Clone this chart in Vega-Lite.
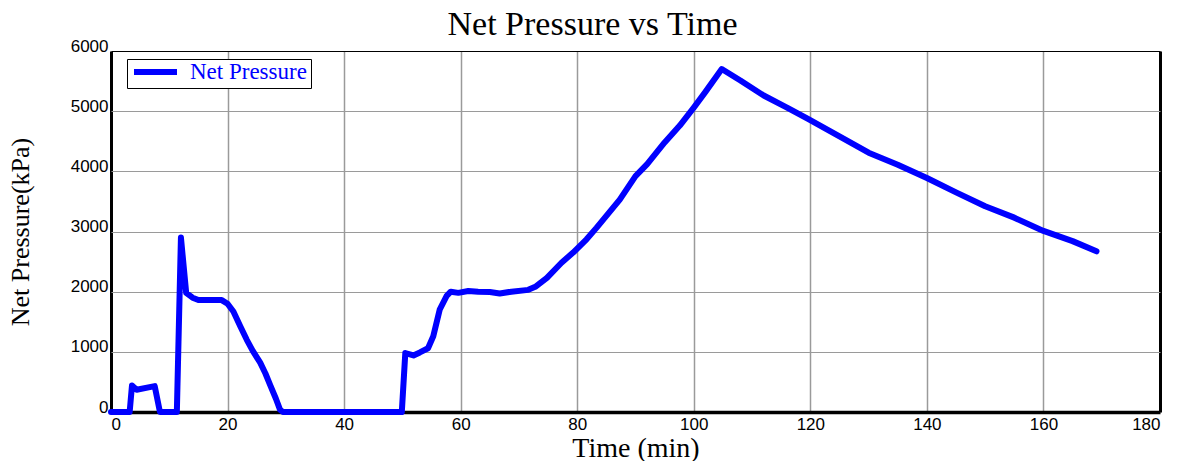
{
  "$schema": "https://vega.github.io/schema/vega-lite/v6.json",
  "width": 1049,
  "height": 361,
  "autosize": "none",
  "padding": {"left": 111, "top": 51, "right": 21, "bottom": 49},
  "background": "white",
  "title": {
    "text": "Net Pressure vs Time",
    "font": "Liberation Serif",
    "fontSize": 34,
    "fontWeight": "normal",
    "color": "black",
    "anchor": "middle",
    "frame": "group",
    "offset": 8,
    "dx": -43,
    "dy": 13
  },
  "config": {
    "view": {"stroke": null},
    "axis": {
      "labelFont": "Liberation Sans",
      "labelFontSize": 17,
      "labelColor": "black",
      "titleFont": "Liberation Serif",
      "titleFontWeight": "normal",
      "titleColor": "black",
      "grid": true,
      "ticks": false,
      "domain": false,
      "format": "d"
    }
  },
  "data": {
    "values": [
      {"time": 0, "pressure": 0, "series": "Net Pressure"},
      {"time": 3.2, "pressure": 0, "series": "Net Pressure"},
      {"time": 3.6, "pressure": 440, "series": "Net Pressure"},
      {"time": 4.4, "pressure": 370, "series": "Net Pressure"},
      {"time": 7.5, "pressure": 430, "series": "Net Pressure"},
      {"time": 8.4, "pressure": 0, "series": "Net Pressure"},
      {"time": 11.3, "pressure": 0, "series": "Net Pressure"},
      {"time": 12.0, "pressure": 2900, "series": "Net Pressure"},
      {"time": 12.9, "pressure": 1980, "series": "Net Pressure"},
      {"time": 14.0, "pressure": 1900, "series": "Net Pressure"},
      {"time": 15.0, "pressure": 1860, "series": "Net Pressure"},
      {"time": 19.0, "pressure": 1860, "series": "Net Pressure"},
      {"time": 20.0, "pressure": 1800, "series": "Net Pressure"},
      {"time": 21.0, "pressure": 1670, "series": "Net Pressure"},
      {"time": 22.2, "pressure": 1420, "series": "Net Pressure"},
      {"time": 23.3, "pressure": 1200, "series": "Net Pressure"},
      {"time": 24.3, "pressure": 1020, "series": "Net Pressure"},
      {"time": 25.6, "pressure": 820, "series": "Net Pressure"},
      {"time": 26.5, "pressure": 640, "series": "Net Pressure"},
      {"time": 27.3, "pressure": 450, "series": "Net Pressure"},
      {"time": 28.3, "pressure": 220, "series": "Net Pressure"},
      {"time": 29.0, "pressure": 40, "series": "Net Pressure"},
      {"time": 29.5, "pressure": 0, "series": "Net Pressure"},
      {"time": 49.9, "pressure": 0, "series": "Net Pressure"},
      {"time": 50.5, "pressure": 980, "series": "Net Pressure"},
      {"time": 51.9, "pressure": 940, "series": "Net Pressure"},
      {"time": 53.0, "pressure": 990, "series": "Net Pressure"},
      {"time": 54.4, "pressure": 1060, "series": "Net Pressure"},
      {"time": 55.3, "pressure": 1260, "series": "Net Pressure"},
      {"time": 56.4, "pressure": 1700, "series": "Net Pressure"},
      {"time": 57.6, "pressure": 1930, "series": "Net Pressure"},
      {"time": 58.3, "pressure": 2000, "series": "Net Pressure"},
      {"time": 59.6, "pressure": 1980, "series": "Net Pressure"},
      {"time": 61.3, "pressure": 2010, "series": "Net Pressure"},
      {"time": 63.0, "pressure": 2000, "series": "Net Pressure"},
      {"time": 65.0, "pressure": 1995, "series": "Net Pressure"},
      {"time": 66.7, "pressure": 1970, "series": "Net Pressure"},
      {"time": 68.7, "pressure": 2000, "series": "Net Pressure"},
      {"time": 71.6, "pressure": 2030, "series": "Net Pressure"},
      {"time": 72.8, "pressure": 2080, "series": "Net Pressure"},
      {"time": 74.8, "pressure": 2230, "series": "Net Pressure"},
      {"time": 77.3, "pressure": 2480, "series": "Net Pressure"},
      {"time": 79.3, "pressure": 2650, "series": "Net Pressure"},
      {"time": 81.6, "pressure": 2870, "series": "Net Pressure"},
      {"time": 83.3, "pressure": 3060, "series": "Net Pressure"},
      {"time": 87.3, "pressure": 3530, "series": "Net Pressure"},
      {"time": 90.0, "pressure": 3920, "series": "Net Pressure"},
      {"time": 92.0, "pressure": 4120, "series": "Net Pressure"},
      {"time": 95.0, "pressure": 4480, "series": "Net Pressure"},
      {"time": 97.6, "pressure": 4760, "series": "Net Pressure"},
      {"time": 100.0, "pressure": 5060, "series": "Net Pressure"},
      {"time": 102.0, "pressure": 5320, "series": "Net Pressure"},
      {"time": 104.8, "pressure": 5700, "series": "Net Pressure"},
      {"time": 108.0, "pressure": 5510, "series": "Net Pressure"},
      {"time": 112.0, "pressure": 5260, "series": "Net Pressure"},
      {"time": 116.0, "pressure": 5060, "series": "Net Pressure"},
      {"time": 119.6, "pressure": 4870, "series": "Net Pressure"},
      {"time": 125.0, "pressure": 4580, "series": "Net Pressure"},
      {"time": 130.0, "pressure": 4310, "series": "Net Pressure"},
      {"time": 135.0, "pressure": 4110, "series": "Net Pressure"},
      {"time": 140.0, "pressure": 3890, "series": "Net Pressure"},
      {"time": 145.0, "pressure": 3650, "series": "Net Pressure"},
      {"time": 150.0, "pressure": 3420, "series": "Net Pressure"},
      {"time": 155.0, "pressure": 3230, "series": "Net Pressure"},
      {"time": 160.0, "pressure": 3010, "series": "Net Pressure"},
      {"time": 165.0, "pressure": 2840, "series": "Net Pressure"},
      {"time": 169.1, "pressure": 2670, "series": "Net Pressure"}
    ]
  },
  "mark": {
    "type": "line",
    "strokeWidth": 6,
    "strokeCap": "round",
    "strokeJoin": "round",
    "clip": false
  },
  "encoding": {
    "x": {
      "field": "time",
      "type": "quantitative",
      "scale": {"domain": [0, 180], "nice": false},
      "axis": {
        "title": "Time (min)",
        "titleFontSize": 28,
        "titlePadding": 2,
        "labelPadding": 4,
        "values": [0, 20, 40, 60, 80, 100, 120, 140, 160, 180],
        "gridColor": {"condition": {"test": "datum.value === 0 || datum.value === 180", "value": "black"}, "value": "#9a9a9a"},
        "gridWidth": {"condition": {"test": "datum.value === 0 || datum.value === 180", "value": 3}, "value": 1.5}
      }
    },
    "y": {
      "field": "pressure",
      "type": "quantitative",
      "scale": {"domain": [0, 6000], "nice": false},
      "axis": {
        "title": "Net Pressure(kPa)",
        "titleFontSize": 26,
        "titlePadding": 37,
        "labelPadding": 3,
        "labelBaseline": "alphabetic",
        "values": [0, 1000, 2000, 3000, 4000, 5000, 6000],
        "gridColor": {"condition": {"test": "datum.value === 0 || datum.value === 6000", "value": "black"}, "value": "#9a9a9a"},
        "gridWidth": {"condition": {"test": "datum.value === 0", "value": 3.5}, "value": {"expr": "datum.value === 6000 ? 2 : 1.5"}}
      }
    },
    "color": {
      "field": "series",
      "type": "nominal",
      "scale": {"range": ["#0000ff"]},
      "legend": {
        "title": null,
        "orient": "none",
        "legendX": 16,
        "legendY": 8,
        "direction": "horizontal",
        "symbolType": "stroke",
        "symbolSize": 1849,
        "symbolStrokeWidth": 6,
        "symbolStrokeColor": "#0000ff",
        "clipHeight": 18,
        "labelFont": "Liberation Serif",
        "labelFontSize": 23,
        "labelColor": "#0000ff",
        "labelOffset": 10,
        "padding": 4,
        "fillColor": "white",
        "strokeColor": "black"
      }
    }
  }
}
